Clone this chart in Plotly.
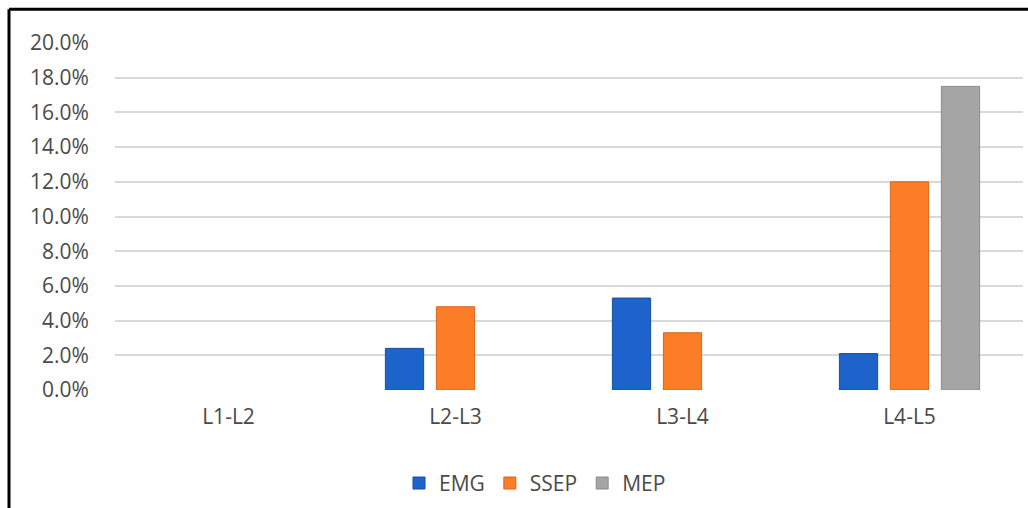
import plotly.graph_objects as go

# Lumbar levels and the share of cases with a signal change, per modality (%)
levels = ["L1-L2", "L2-L3", "L3-L4", "L4-L5"]
emg = [None, 2.4, 5.3, 2.1]
ssep = [None, 4.8, 3.3, 12.0]
mep = [None, None, None, 17.5]
y_ticks = [0, 2, 4, 6, 8, 10, 12, 14, 16, 18, 20]

W, H = 1028, 508
L, R, T, B = 115, 5, 43, 116.5
pw, ph = W - L - R, H - T - B

def px_x(x):
    return (x - L) / pw

def px_y(y):
    return (H - B - y) / ph

text_font = dict(family="Open Sans, Liberation Sans, sans-serif", size=21, color="#4A4A4A")

series = [
    ("EMG", emg, "#1C63CC", "#1A4E9E"),
    ("SSEP", ssep, "#FB7D26", "#D9661A"),
    ("MEP", mep, "#A5A5A5", "#8C8C8C"),
]

fig = go.Figure()
for name, vals, fill, edge in series:
    fig.add_trace(go.Bar(
        name=name, x=levels, y=vals,
        marker=dict(color=fill, line=dict(color=edge, width=1)),
    ))

fig.update_layout(
    width=W, height=H,
    margin=dict(l=L, r=R, t=T, b=B, pad=0),
    paper_bgcolor="white", plot_bgcolor="white",
    barmode="group", bargap=0.326, bargroupgap=0.25,
    font=text_font,
    showlegend=True,
    legend=dict(
        orientation="h", x=px_x(535), y=px_y(484),
        xanchor="center", yanchor="middle",
        font=text_font, itemwidth=30, traceorder="normal",
    ),
    xaxis=dict(
        showgrid=False, showline=False, zeroline=False,
        ticks="outside", ticklen=8, tickcolor="rgba(0,0,0,0)",
        tickfont=text_font,
    ),
    yaxis=dict(
        range=[0, 20], tickvals=y_ticks,
        ticktext=[f"{v:.1f}%" for v in y_ticks],
        showgrid=True, gridcolor="#D9D9D9", gridwidth=1.5,
        zeroline=False, showline=False,
        ticks="outside", ticklen=21, tickcolor="rgba(0,0,0,0)",
        tickfont=text_font,
    ),
    shapes=[
        dict(type="line", xref="paper", yref="paper",
             x0=px_x(9), x1=px_x(1032), y0=px_y(9), y1=px_y(9),
             line=dict(color="black", width=3)),
        dict(type="line", xref="paper", yref="paper",
             x0=px_x(9), x1=px_x(9), y0=px_y(9), y1=px_y(512),
             line=dict(color="black", width=3)),
    ],
)

fig.write_html("out.html")
